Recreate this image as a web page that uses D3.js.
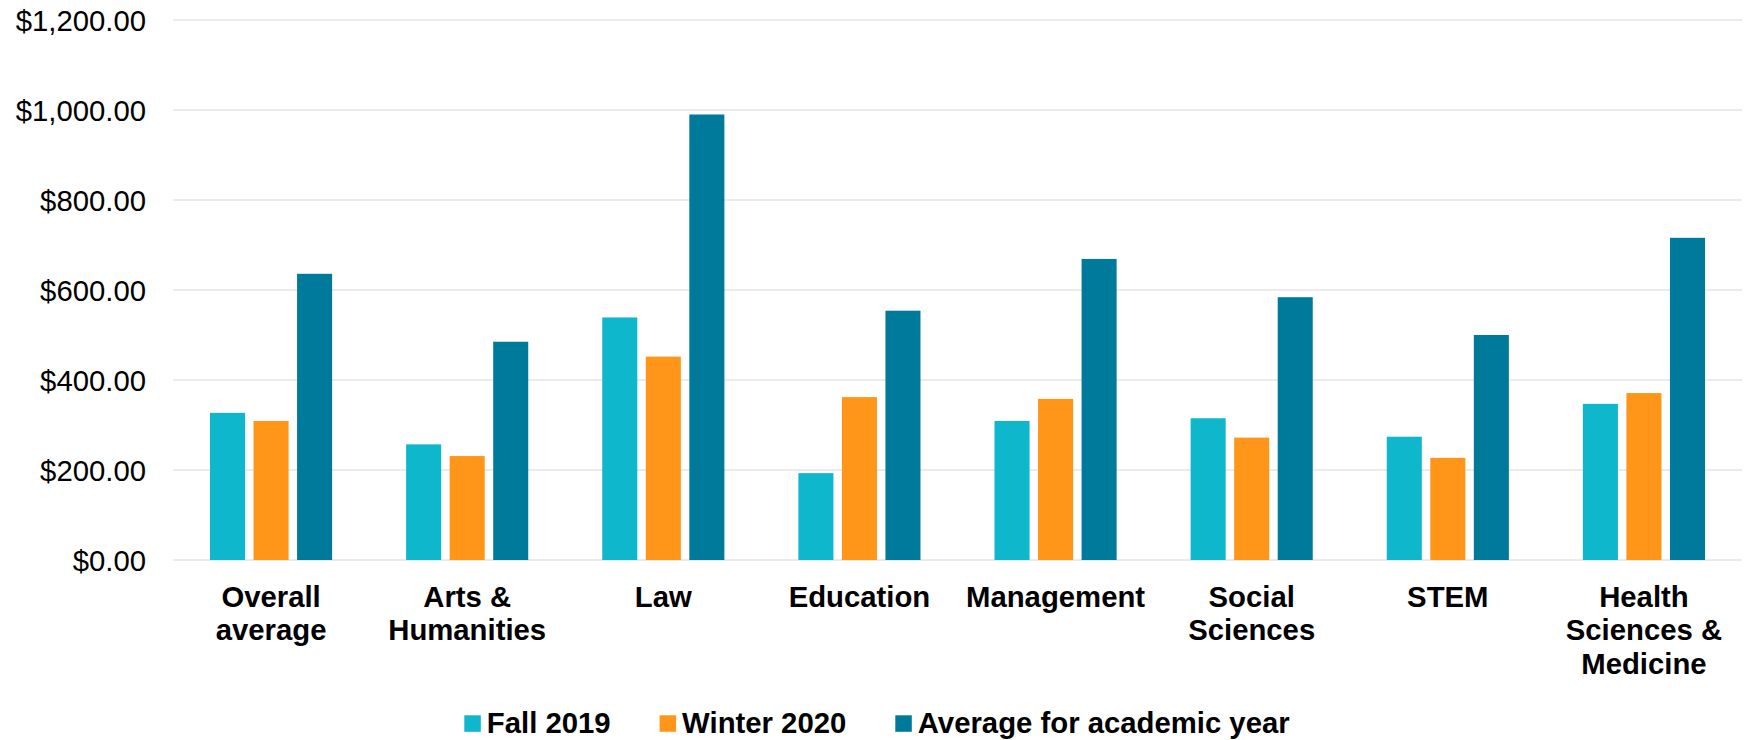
<!DOCTYPE html>
<html>
<head>
<meta charset="utf-8">
<script src="https://cdn.jsdelivr.net/npm/d3@7"></script>
<style>
  body { margin: 0; background: #fff; }
  svg { display: block; font-family: 'Liberation Sans', Arial, sans-serif; }
  .tick-label { font-size: 29.3px; fill: #000; }
  .cat-label { font-size: 29.3px; font-weight: bold; fill: #000; }
  .legend-label { font-size: 29.3px; font-weight: bold; fill: #000; }
</style>
</head>
<body>
<div id="root"></div>
<script>
const categories = [
  'Overall\naverage',
  'Arts &\nHumanities',
  'Law',
  'Education',
  'Management',
  'Social\nSciences',
  'STEM',
  'Health\nSciences &\nMedicine'
];
const seriesNames = ['Fall 2019', 'Winter 2020', 'Average for academic year'];
const fall2019 = [327, 257, 539, 193, 309, 315, 274, 347];
const winter2020 = [309, 231, 452, 362, 358, 272, 227, 371];
const academicYear = [636, 485, 990, 554, 669, 584, 500, 716];
const yTicks = [0, 200, 400, 600, 800, 1000, 1200];
const colors = ['#0eb7cc', '#ff9619', '#007a9b'];

const seriesValues = [fall2019, winter2020, academicYear];
const rows = categories.map((c, i) => ({
  category: c,
  values: seriesNames.map((s, j) => ({ series: s, value: seriesValues[j][i] }))
}));

const width = 1747;
const height = 740;
const plot = { left: 173, right: 1742, top: 20, bottom: 560 };

const svg = d3.select('#root').append('svg')
  .attr('width', width)
  .attr('height', height);

const x0 = d3.scaleBand()
  .domain(categories)
  .range([plot.left, plot.right]);

const x1 = d3.scaleBand()
  .domain(seriesNames)
  .range([0, x0.bandwidth()])
  .paddingInner(0.195)
  .paddingOuter(0.85);

const y = d3.scaleLinear()
  .domain([0, 1200])
  .range([plot.bottom, plot.top]);

const color = d3.scaleOrdinal(seriesNames, colors);
const fmt = d3.format('$,.2f');

// gridlines
svg.append('g')
  .selectAll('line')
  .data(yTicks)
  .enter()
  .append('line')
  .attr('x1', plot.left)
  .attr('x2', plot.right)
  .attr('y1', d => y(d))
  .attr('y2', d => y(d))
  .attr('stroke', '#e4e4e4')
  .attr('stroke-width', 1.6);

// y labels
svg.append('g')
  .selectAll('text')
  .data(yTicks)
  .enter()
  .append('text')
  .attr('class', 'tick-label')
  .attr('x', 146)
  .attr('y', d => y(d))
  .attr('dy', '0.36em')
  .attr('text-anchor', 'end')
  .text(d => fmt(d));

// bars
const groups = svg.append('g')
  .selectAll('g')
  .data(rows)
  .enter()
  .append('g')
  .attr('transform', d => `translate(${x0(d.category)},0)`);

groups.selectAll('rect')
  .data(d => d.values)
  .enter()
  .append('rect')
  .attr('x', d => x1(d.series))
  .attr('width', x1.bandwidth())
  .attr('y', d => y(d.value))
  .attr('height', d => y(0) - y(d.value))
  .attr('fill', d => color(d.series));

// category labels
const catLabels = svg.append('g')
  .selectAll('text')
  .data(categories)
  .enter()
  .append('text')
  .attr('class', 'cat-label')
  .attr('text-anchor', 'middle')
  .attr('x', d => x0(d) + x0.bandwidth() / 2)
  .attr('y', plot.bottom + 46.7);

catLabels.selectAll('tspan')
  .data(d => d.split('\n'))
  .enter()
  .append('tspan')
  .attr('x', function () { return this.parentNode.getAttribute('x'); })
  .attr('dy', (d, i) => i === 0 ? 0 : 33.5)
  .text(d => d);

// legend
const legend = svg.append('g')
  .attr('transform', 'translate(464.3, 733.3)');

let offset = 0;
seriesNames.forEach(name => {
  const item = legend.append('g').attr('transform', `translate(${offset},0)`);
  item.append('rect')
    .attr('x', 0)
    .attr('y', -18)
    .attr('width', 16.5)
    .attr('height', 16.5)
    .attr('fill', color(name));
  const label = item.append('text')
    .attr('class', 'legend-label')
    .attr('x', 22.5)
    .attr('y', 0)
    .text(name);
  offset += 22.5 + label.node().getComputedTextLength() + 49;
});
</script>
</body>
</html>
